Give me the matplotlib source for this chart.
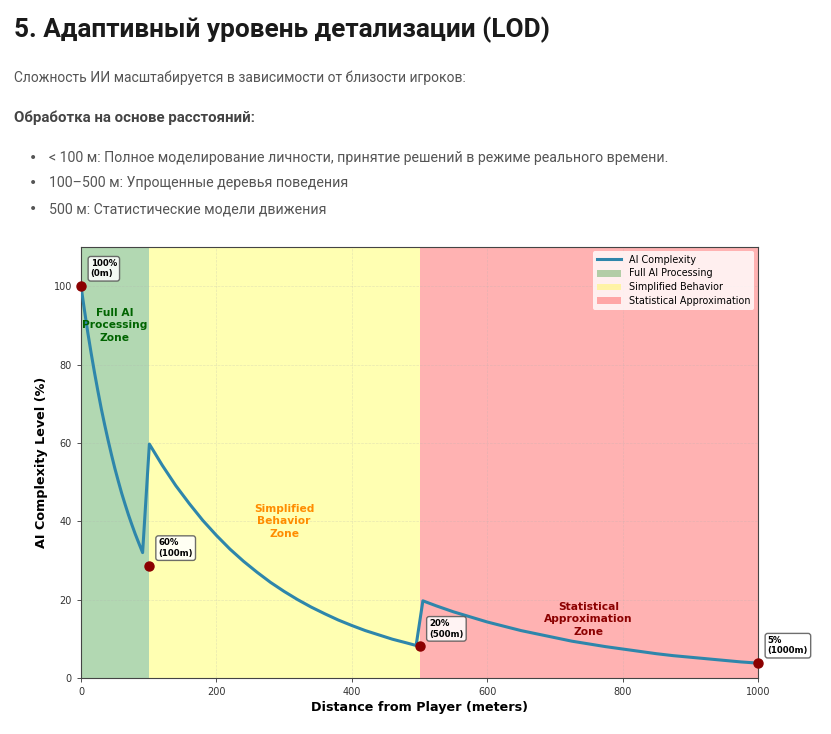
import matplotlib
matplotlib.use("Agg")
import matplotlib.pyplot as plt

# curve (distance m, complexity %)
dist = [0, 5, 10, 15, 20, 25, 30, 35, 40, 45, 50, 55, 60, 65, 70, 75, 80, 85, 91,
        101, 120, 140, 160, 180, 200, 220, 240, 260, 280, 300, 320, 340, 360, 380, 400,
        420, 440, 460, 480, 495,
        505, 525, 550, 575, 600, 625, 650, 675, 700, 725, 750, 775, 800, 825, 850, 875,
        900, 925, 950, 975, 1000]
complexity = [100, 94, 88.2, 82.9, 77.9, 73.2, 68.7, 64.6, 60.7, 57, 53.5, 50.3, 47.2, 44.4,
              41.7, 39.2, 36.8, 34.6, 32,
              59.7, 54.3, 49.1, 44.5, 40.2, 36.4, 32.9, 29.8, 27, 24.4, 22.1, 20, 18.1, 16.4,
              14.8, 13.4, 12.1, 11, 9.9, 9, 8.3,
              19.7, 18.4, 16.9, 15.6, 14.3, 13.2, 12.1, 11.2, 10.3, 9.4, 8.7, 8, 7.4, 6.8,
              6.2, 5.7, 5.3, 4.9, 4.5, 4.1, 3.8]

# marked points
mark_dist = [0, 100, 500, 1000]
mark_val = [100, 28.7, 8.1, 3.8]
mark_text = ["100%\n(0m)", "60%\n(100m)", "20%\n(500m)", "5%\n(1000m)"]

zones = [(0, 100), (100, 500), (500, 1000)]
zone_colors = ["green", "yellow", "red"]
zone_names = ["Full AI Processing", "Simplified Behavior", "Statistical Approximation"]
zone_labels = ["Full AI\nProcessing\nZone", "Simplified\nBehavior\nZone", "Statistical\nApproximation\nZone"]
zone_label_pos = [(50, 90), (300, 40), (750, 15)]
zone_label_colors = ["darkgreen", "darkorange", "darkred"]

fig = plt.figure(figsize=(8.31, 7.34), dpi=100)

def fy(py):
    return 1 - py / 734.0

# page text
fig.text(14 / 831, fy(30), "5. Адаптивный уровень детализации (LOD)", family="Roboto",
         fontweight="bold", fontsize=18.9, color="#1a1a1a", va="center")
fig.text(14 / 831, fy(78), "Сложность ИИ масштабируется в зависимости от близости игроков:",
         family="Roboto", fontsize=10, color="#555555", va="center")
fig.text(14 / 831, fy(118), "Обработка на основе расстояний:", family="Roboto",
         fontweight="bold", fontsize=10.8, color="#444444", va="center")
bullets = ["< 100 м: Полное моделирование личности, принятие решений в режиме реального времени.",
           "100–500 м: Упрощенные деревья поведения",
           "500 м: Статистические модели движения"]
for i, b in enumerate(bullets):
    y = fy(158 + i * 25.5)
    fig.text(33 / 831, y, "•", family="DejaVu Sans", fontsize=10, color="#555555", va="center", ha="center")
    fig.text(49 / 831, y, b, family="Roboto", fontsize=10.15, color="#555555", va="center")

# chart
ax = fig.add_axes([81 / 831, 56 / 734, 677 / 831, 431 / 734])
for (a, b), c, n in zip(zones, zone_colors, zone_names):
    ax.axvspan(a, b, color=c, alpha=0.3, label=n, lw=0)

ax.plot(dist, complexity, color="#2E86AB", lw=2.2, label="AI Complexity", zorder=3)
ax.plot(mark_dist, mark_val, "o", color="darkred", markersize=6.5, zorder=4, clip_on=False)
for x, y, t in zip(mark_dist, mark_val, mark_text):
    ax.annotate(t, (x, y), xytext=(7, 7), textcoords="offset points", fontsize=6.2,
                fontweight="bold", annotation_clip=False,
                bbox=dict(boxstyle="round,pad=0.3", facecolor="white", edgecolor="#555555", alpha=0.85))

for t, (x, y), c in zip(zone_labels, zone_label_pos, zone_label_colors):
    ax.text(x, y, t, ha="center", va="center", fontsize=7.7, fontweight="bold", color=c, linespacing=1.3)

ax.set_xlim(0, 1000)
ax.set_ylim(0, 110)
ax.set_xticks([0, 200, 400, 600, 800, 1000])
ax.set_yticks([0, 20, 40, 60, 80, 100])
ax.tick_params(labelsize=7, colors="#333333", length=3, width=0.6)
ax.grid(True, linestyle="--", alpha=0.3, lw=0.5)
for s in ax.spines.values():
    s.set_color("#444444")
    s.set_linewidth(0.8)
ax.set_xlabel("Distance from Player (meters)", fontsize=9.2, fontweight="bold", labelpad=3)
ax.set_ylabel("AI Complexity Level (%)", fontsize=9.2, fontweight="bold", labelpad=4)

handles, labels = ax.get_legend_handles_labels()
order = [3, 0, 1, 2]
ax.legend([handles[i] for i in order], [labels[i] for i in order], loc="upper right",
          fontsize=6.9, framealpha=0.8, edgecolor="none", borderaxespad=0.4,
          handlelength=2.5, labelspacing=0.4)

fig.savefig("out.png", dpi=100)
